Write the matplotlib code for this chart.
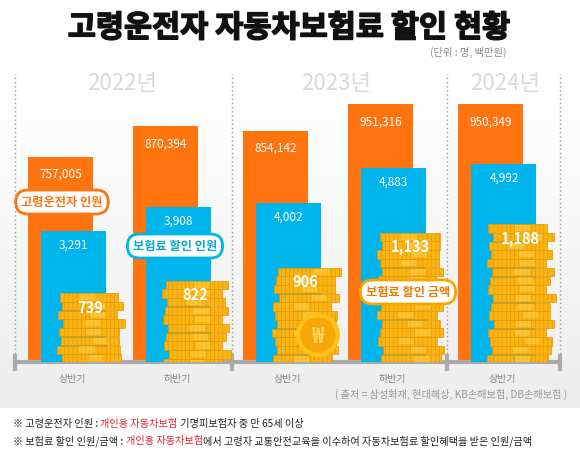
import numpy as np
import matplotlib.pyplot as plt
import matplotlib.patheffects as pe
from matplotlib.patches import Circle
from matplotlib.transforms import IdentityTransform

plt.rcParams['font.family'] = ['Noto Sans CJK KR', 'DejaVu Sans']
plt.rcParams['hatch.linewidth'] = 0.5

# ---------------- DATOS ----------------
years = ['2022년', '2023년', '2024년']
halves = ['상반기', '하반기', '상반기', '하반기', '상반기']
year_of_group = [0, 0, 1, 1, 2]
drivers = [757005, 870394, 854142, 951316, 950349]     # 고령운전자 인원
disc_people = [3291, 3908, 4002, 4883, 4992]           # 보험료 할인 인원
disc_amount = [739, 822, 906, 1133, 1188]              # 보험료 할인 금액 (백만원)

# ---------------- ESTILO ----------------
W, H = 580, 456
ORANGE = '#FF740E'
BLUE = '#00B5EC'
GOLD = '#FBB414'
GOLD_DARK = '#E39A00'
GOLD_LIGHT = '#FFD04A'
PX = 105.0           # pixeles por unidad de grupo
X0 = 28.0            # borde izquierdo del primer grupo (px)
BASE, TOP = 363, 60  # linea base y techo del area de barras (px)

fig = plt.figure(figsize=(W / 100, H / 100), dpi=100)

# fondo con degradado
bg = fig.add_axes([0, 0, 1, 1], zorder=-5)
grad = np.ones((H, 1))
yy = np.arange(H)
val = np.clip((yy - 90) / (409 - 90), 0, 1)
grad[:, 0] = 1 - 0.07 * val
grad[yy >= 409, 0] = 1.0
bg.imshow(np.dstack([grad, grad, grad]), aspect='auto', extent=[0, W, H, 0])
bg.set_xlim(0, W)
bg.set_ylim(H, 0)
bg.axis('off')

# ejes principales (una escala por serie)
rect = [0, (H - BASE) / H, 1, (BASE - TOP) / H]
ax = fig.add_axes(rect)
ax.patch.set_visible(False)
axb = ax.twinx()
axc = ax.twinx()

pos = np.arange(len(halves)) + 0.05 * np.array(year_of_group)
centers = pos + 0.42
ax.set_xlim(-X0 / PX, (W - X0) / PX)

h_px = BASE - TOP
ax.set_ylim(0, h_px * 3690)
axb.set_ylim(0, h_px * 25.2)
coin_u = 6.506
axc.set_ylim(290, 290 + h_px * coin_u)

bw = 65 / PX
ax.bar(pos, drivers, width=bw, align='edge', color=ORANGE, zorder=2)
axb.bar(pos + 13 / PX, disc_people, width=bw, align='edge', color=BLUE, zorder=2)

# pilas de monedas
jit = [0, 2, -2, 3, -1, 1, -3, 2, 0, -2, 3, 1, -1, 4, -2, 0, 2, -3]
wj = [0, 3, 1, 4, 2, 0, 5, 1, 3, 2, 0, 4, 1, 3]
row = 8.7 * coin_u
for g, v in enumerate(disc_amount):
    i = 0
    while v - i * row > 290 - row:
        top = v - i * row
        left = pos[g] + (32 + jit[(i + 5 * g) % len(jit)]) / PX
        width = (58 + wj[(i + 3 * g) % len(wj)]) / PX
        axc.bar(left, row * 0.96, bottom=top - row, width=width, align='edge',
                color=GOLD, edgecolor=GOLD_DARK, linewidth=0.5, hatch='||||', zorder=2)
        axc.bar(left + width * (0.35 + 0.1 * ((i + g) % 3)), row * 0.7, bottom=top - row * 0.85,
                width=width * 0.25, align='edge', color=GOLD_LIGHT, alpha=0.55,
                linewidth=0, zorder=3)
        i += 1

# etiquetas de valores
for g in range(len(halves)):
    ax.annotate(f'{drivers[g]:,}', (pos[g] + bw / 2, drivers[g]), xytext=(0, -12),
                textcoords='offset points', ha='center', va='center',
                color='white', fontsize=8.5, zorder=5)
    axb.annotate(f'{disc_people[g]:,}', (pos[g] + 13 / PX + bw / 2, disc_people[g]),
                 xytext=(0, -9.5), textcoords='offset points', ha='center', va='center',
                 color='white', fontsize=8.5, zorder=5)
    axc.annotate(f'{disc_amount[g]:,}', (pos[g] + 62 / PX, disc_amount[g]), xytext=(0, -10),
                 textcoords='offset points', ha='center', va='center',
                 color='white', fontsize=10.5, fontweight='bold', zorder=5)

# eje x, separadores
bounds = [centers[0] - 0.54, (centers[1] + centers[2]) / 2,
          (centers[3] + centers[4]) / 2, centers[-1] + 0.55]
xt = ax.get_xaxis_transform()
for b in bounds:
    ax.plot([b, b], [0, (BASE - 75) / h_px], transform=xt, color='#9a9a9a',
            linestyle=(0, (1, 2)), linewidth=1, clip_on=False, zorder=1)
    ax.plot([b, b], [-9 / h_px, 8 / h_px], transform=xt, color='#aaaaaa',
            linewidth=3, clip_on=False, solid_capstyle='butt', zorder=6)
ax.plot([bounds[0], bounds[-1]], [0, 0], transform=xt, color='#aaaaaa',
        linewidth=3, clip_on=False, solid_capstyle='butt', zorder=6)

for a in (ax, axb, axc):
    for s in a.spines.values():
        s.set_visible(False)
    a.set_yticks([])
ax.set_xticks(centers)
ax.set_xticklabels(halves, color='#888888', fontsize=7.2)
ax.tick_params(axis='x', length=0, pad=8)
axb.tick_params(axis='x', length=0, labelbottom=False)
axc.tick_params(axis='x', length=0, labelbottom=False)

# capa superior en pixeles: textos, globos, moneda
ov = fig.add_axes([0, 0, 1, 1], zorder=10)
ov.set_xlim(0, W)
ov.set_ylim(H, 0)
ov.axis('off')

ov.text(289, 29, '고령운전자 자동차보험료 할인 현황', ha='center', va='center',
        fontsize=22, fontweight='black', color='#111111',
        path_effects=[pe.withStroke(linewidth=1.1, foreground='#111111')])
ov.text(506, 52, '(단위 : 명, 백만원)', ha='right', va='center', fontsize=7.4, color='#888888')

for yl, x in zip(years, [122, 336, 505]):
    ov.text(x, 84, yl, ha='center', va='center', fontsize=16, color='#d9d9d9')

callouts = [('고령운전자 인원', 62, 203, ORANGE, ORANGE),
            ('보험료 할인 인원', 175, 247, BLUE, '#0AA6D8'),
            ('보험료 할인 금액', 408, 293, '#F7A600', '#EE7A00')]
for txt, x, y, ec, tc in callouts:
    ov.text(x, y, txt, ha='center', va='center', fontsize=8.8, fontweight='bold', color=tc,
            bbox=dict(boxstyle='round,pad=0.45,rounding_size=1.0', fc='white', ec=ec, lw=2))

ov.add_patch(Circle((318, 336), 22, fc='#FFC21A', ec='none'))
ov.add_patch(Circle((318, 336), 17.5, fc='#F8A70A', ec='none'))
ov.text(318, 337, '₩', ha='center', va='center', fontsize=15, fontweight='bold', color='#FFD65A')

ov.text(567, 394, '( 출처 = 삼성화재, 현대해상, KB손해보험, DB손해보험 )', ha='right',
        va='center', fontsize=7.3, color='#999999')

# notas con partes en rojo
RED = '#E8242B'
NOTE_FS = 7.3
notes = [[('※ 고령운전자 인원 : ', '#222222'), ('개인용 자동차보험', RED),
          (' 기명피보험자 중 만 65세 이상', '#222222')],
         [('※ 보험료 할인 인원/금액 : ', '#222222'), ('개인용 자동차보험', RED),
          ('에서 고령자 교통안전교육을 이수하여 자동차보험료 할인혜택을 받은 인원/금액', '#222222')]]
r = fig.canvas.get_renderer()
ref = fig.text(0, 0, '|', fontsize=NOTE_FS)
bar_w = ref.get_window_extent(r).width
ref.remove()
for line, y in zip(notes, [424, 441]):
    x = 13
    for s, c in line:
        fig.text(x, H - y, s, color=c, fontsize=NOTE_FS, va='center', ha='left',
                 transform=IdentityTransform())
        probe = fig.text(0, 0, s + '|', fontsize=NOTE_FS)
        x += probe.get_window_extent(r).width - bar_w
        probe.remove()

fig.savefig('out.png', dpi=100)
